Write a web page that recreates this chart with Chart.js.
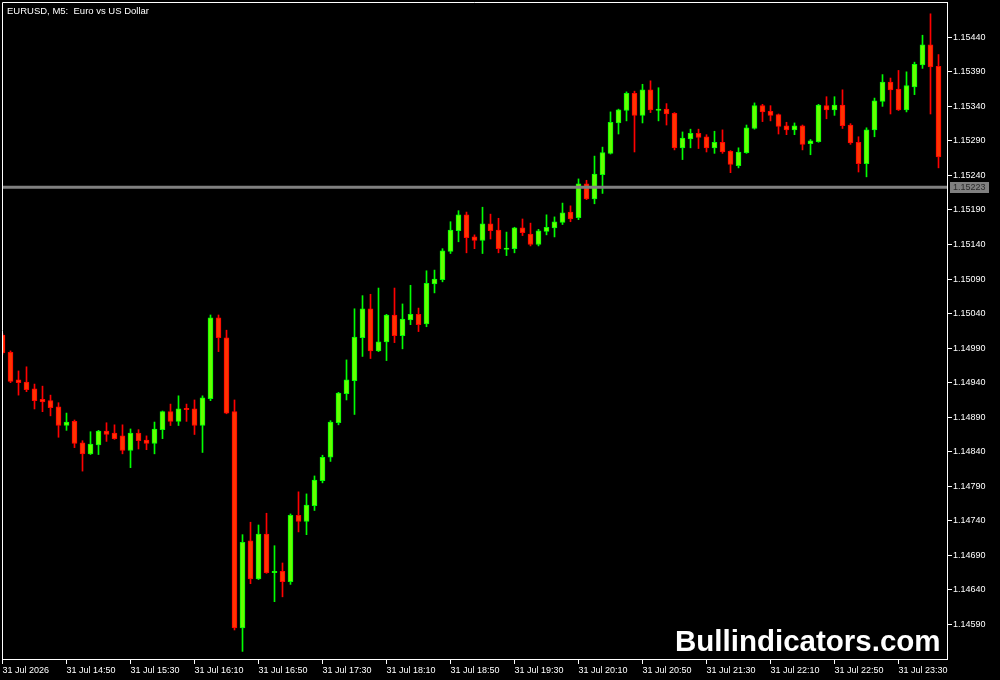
<!DOCTYPE html>
<html><head><meta charset="utf-8">
<script src="https://cdn.jsdelivr.net/npm/chart.js@4.4.1/dist/chart.umd.min.js"></script>
<style>html,body{margin:0;padding:0;background:#000;overflow:hidden}canvas{display:block}</style>
</head><body>
<canvas id="c" width="1000" height="680"></canvas>
<script>
const opens = [
1.15009,1.14984,1.14944,1.14941,1.14931,1.14916,1.14914,1.14905,1.14878,1.14884,
1.14853,1.14837,1.14850,1.14870,1.14867,1.14863,1.14842,1.14867,1.14857,1.14852,
1.14872,1.14898,1.14884,1.14903,1.14902,1.14878,1.14917,1.15034,1.15005,1.14898,
1.14585,1.14711,1.14656,1.14721,1.14665,1.14667,1.14652,1.14748,1.14739,1.14762,
1.14798,1.14832,1.14882,1.14924,1.14943,1.15005,1.15047,1.14986,1.14999,1.15038,
1.15008,1.15031,1.15039,1.15025,1.15083,1.15089,1.15130,1.15160,1.15183,1.15151,
1.15146,1.15170,1.15161,1.15133,1.15134,1.15164,1.15155,1.15140,1.15159,1.15164,
1.15172,1.15187,1.15179,1.15228,1.15206,1.15241,1.15272,1.15316,1.15334,1.15359,
1.15327,1.15364,1.15334,1.15336,1.15330,1.15280,1.15293,1.15301,1.15296,1.15280,
1.15288,1.15275,1.15254,1.15273,1.15308,1.15341,1.15333,1.15328,1.15312,1.15306,
1.15312,1.15286,1.15289,1.15341,1.15335,1.15342,1.15313,1.15288,1.15257,1.15306,
1.15347,1.15375,1.15365,1.15335,1.15368,1.15400,1.15429,1.15398];
const highs = [
1.15011,1.14986,1.14957,1.14963,1.14938,1.14935,1.14922,1.14911,1.14896,1.14886,
1.14856,1.14869,1.14871,1.14882,1.14879,1.14879,1.14873,1.14872,1.14863,1.14883,
1.14899,1.14909,1.14921,1.14909,1.14915,1.14921,1.15038,1.15038,1.15016,1.14915,
1.14720,1.14738,1.14734,1.14751,1.14704,1.14679,1.14750,1.14782,1.14779,1.14805,
1.14835,1.14885,1.14926,1.14973,1.15047,1.15066,1.15068,1.15077,1.15039,1.15077,
1.15054,1.15081,1.15048,1.15102,1.15103,1.15134,1.15173,1.15189,1.15187,1.15154,
1.15194,1.15184,1.15178,1.15158,1.15165,1.15177,1.15171,1.15162,1.15183,1.15180,
1.15200,1.15196,1.15235,1.15233,1.15268,1.15281,1.15332,1.15336,1.15361,1.15362,
1.15372,1.15377,1.15367,1.15344,1.15331,1.15303,1.15307,1.15307,1.15299,1.15304,
1.15306,1.15276,1.15280,1.15313,1.15345,1.15343,1.15341,1.15329,1.15317,1.15316,
1.15313,1.15292,1.15343,1.15354,1.15354,1.15364,1.15315,1.15296,1.15309,1.15352,
1.15386,1.15381,1.15392,1.15390,1.15404,1.15443,1.15474,1.15415];
const lows = [
1.14981,1.14940,1.14922,1.14927,1.14902,1.14898,1.14892,1.14861,1.14871,1.14846,
1.14812,1.14836,1.14836,1.14855,1.14858,1.14837,1.14817,1.14844,1.14843,1.14837,
1.14859,1.14878,1.14878,1.14884,1.14865,1.14839,1.14914,1.14985,1.14895,1.14582,
1.14551,1.14649,1.14655,1.14664,1.14623,1.14630,1.14648,1.14724,1.14720,1.14755,
1.14795,1.14826,1.14879,1.14915,1.14894,1.14978,1.14975,1.14985,1.14972,1.14998,
1.14989,1.15024,1.15014,1.15021,1.15070,1.15086,1.15127,1.15144,1.15128,1.15134,
1.15127,1.15148,1.15128,1.15124,1.15128,1.15153,1.15138,1.15138,1.15154,1.15151,
1.15169,1.15173,1.15176,1.15205,1.15199,1.15214,1.15271,1.15300,1.15319,1.15274,
1.15316,1.15331,1.15319,1.15313,1.15277,1.15263,1.15280,1.15279,1.15274,1.15272,
1.15272,1.15244,1.15251,1.15272,1.15307,1.15318,1.15319,1.15300,1.15299,1.15299,
1.15277,1.15270,1.15288,1.15322,1.15327,1.15308,1.15285,1.15245,1.15238,1.15296,
1.15340,1.15329,1.15334,1.15332,1.15357,1.15395,1.15329,1.15251];
const closes = [
1.14983,1.14942,1.14940,1.14930,1.14914,1.14912,1.14904,1.14878,1.14883,1.14852,
1.14837,1.14851,1.14870,1.14865,1.14859,1.14842,1.14867,1.14856,1.14852,1.14873,
1.14898,1.14884,1.14902,1.14901,1.14878,1.14918,1.15034,1.15005,1.14896,1.14585,
1.14709,1.14656,1.14721,1.14665,1.14667,1.14652,1.14748,1.14739,1.14763,1.14799,
1.14832,1.14883,1.14925,1.14944,1.15006,1.15047,1.14986,1.14999,1.15038,1.15008,
1.15032,1.15039,1.15024,1.15084,1.15090,1.15131,1.15161,1.15183,1.15150,1.15146,
1.15170,1.15160,1.15134,1.15135,1.15164,1.15157,1.15140,1.15160,1.15165,1.15173,
1.15186,1.15177,1.15228,1.15206,1.15242,1.15273,1.15317,1.15335,1.15359,1.15327,
1.15364,1.15335,1.15336,1.15329,1.15280,1.15294,1.15301,1.15295,1.15280,1.15288,
1.15274,1.15256,1.15274,1.15309,1.15341,1.15332,1.15327,1.15311,1.15306,1.15312,
1.15285,1.15290,1.15342,1.15335,1.15342,1.15312,1.15287,1.15257,1.15306,1.15348,
1.15375,1.15364,1.15335,1.15370,1.15401,1.15429,1.15397,1.15267];

const tickIndex = [0,8,16,24,32,40,48,56,64,72,80,88,96,104,112];
const tickLabels = ['31 Jul 2026','31 Jul 14:50','31 Jul 15:30','31 Jul 16:10','31 Jul 16:50','31 Jul 17:30','31 Jul 18:10','31 Jul 18:50','31 Jul 19:30','31 Jul 20:10','31 Jul 20:50','31 Jul 21:30','31 Jul 22:10','31 Jul 22:50','31 Jul 23:30'];
const priceTicks = [1.14590,1.14640,1.14690,1.14740,1.14790,1.14840,1.14890,1.14940,1.14990,1.15040,1.15090,1.15140,1.15190,1.15240,1.15290,1.15340,1.15390,1.15440];
const priceLine = 1.15223;
const yMin = 1.14540, yMax = 1.154911;
const xMin = -0.0625, xMax = 118.0625;
const titleText = 'EURUSD, M5:  Euro vs US Dollar';
const watermarkText = 'Bullindicators.com';

const bull = closes.map((c,i)=>c>=opens[i]);
const bodyFill = bull.map(b=>b?'#66ff00':'#ff3300');
const edge = bull.map(b=>b?'#00ff00':'#ff0000');
const FONT = 'Liberation Sans, Arial, sans-serif';

const deco = {
  id:'deco',
  beforeDraw(chart){const c=chart.ctx;c.save();c.fillStyle='#000';c.fillRect(0,0,chart.width,chart.height);c.restore();},
  afterDatasetsDraw(chart){
    const c=chart.ctx,a=chart.chartArea,y=chart.scales.y.getPixelForValue(priceLine);
    c.save();c.strokeStyle='#808080';c.lineWidth=3;c.beginPath();c.moveTo(a.left,y);c.lineTo(a.right,y);c.stroke();c.restore();
  },
  afterDraw(chart){
    const c=chart.ctx,a=chart.chartArea;
    c.save();
    c.strokeStyle='#fff';c.lineWidth=1;c.beginPath();
    c.moveTo(a.left+0.5,a.bottom);c.lineTo(a.left+0.5,a.top+0.5);c.lineTo(a.right,a.top+0.5);c.stroke();
    c.fillStyle='#fff';c.font='9.5px '+FONT;c.textBaseline='alphabetic';c.textAlign='left';
    c.fillText(titleText,7,13.5);
    c.font='bold 29.5px '+FONT;c.fillText(watermarkText,675,651);
    const y=chart.scales.y.getPixelForValue(priceLine);
    c.fillStyle='#808080';c.fillRect(950,Math.round(y)-5,39,11);
    c.fillStyle='#2a2a2a';c.font='9px '+FONT;c.textBaseline='middle';c.fillText(priceLine.toFixed(5),953,Math.round(y)+0.5);
    c.restore();
  }
};

new Chart(document.getElementById('c'),{
  type:'bar',
  data:{datasets:[
    {label:'body',data:opens.map((o,i)=>({x:i,y:[Math.min(o,closes[i]),Math.max(o,closes[i])]})),
     backgroundColor:bodyFill,borderColor:edge,borderWidth:1,borderSkipped:false,barThickness:5,grouped:false,minBarLength:1},
    {label:'wick',data:lows.map((l,i)=>({x:i,y:[l,highs[i]]})),
     backgroundColor:edge,borderWidth:0,barThickness:1,grouped:false}
  ]},
  options:{
    responsive:false,animation:false,devicePixelRatio:1,events:[],
    layout:{padding:{left:2,top:2,right:0,bottom:0}},
    plugins:{legend:{display:false},tooltip:{enabled:false}},
    scales:{
      x:{type:'linear',position:'bottom',min:xMin,max:xMax,bounds:'data',offset:false,
        afterBuildTicks:s=>{s.ticks=tickIndex.map(v=>({value:v}));},
        afterFit:s=>{s.height=21;s.paddingLeft=0;s.paddingRight=0;},
        ticks:{callback:(v,i)=>tickLabels[i],color:'#fff',font:{size:9,family:FONT},align:'start',maxRotation:0,minRotation:0,autoSkip:false,padding:1},
        grid:{display:true,offset:false,drawOnChartArea:false,drawTicks:true,tickLength:5,color:'#fff',tickColor:'#fff'},
        border:{display:true,color:'#fff',width:1}},
      y:{type:'linear',position:'right',min:yMin,max:yMax,bounds:'data',beginAtZero:false,
        afterBuildTicks:s=>{s.ticks=priceTicks.map(v=>({value:v}));},
        afterFit:s=>{s.width=53;s.paddingTop=0;s.paddingBottom=0;},
        ticks:{callback:v=>Number(v).toFixed(5),color:'#fff',font:{size:9,family:FONT},padding:1},
        grid:{display:true,drawOnChartArea:false,drawTicks:true,tickLength:5,color:'#fff',tickColor:'#fff'},
        border:{display:true,color:'#fff',width:1}}
    }
  },
  plugins:[deco]
});
</script>
</body></html>
